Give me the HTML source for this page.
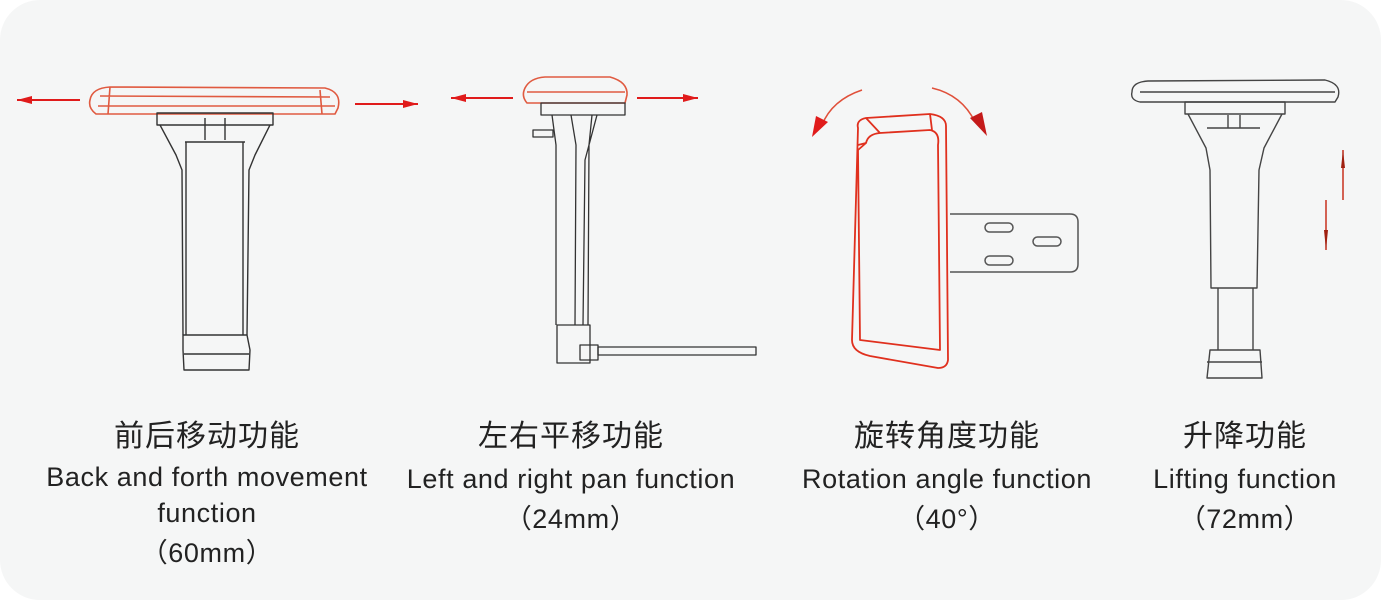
<!DOCTYPE html>
<html><head><meta charset="utf-8"><style>
html,body{margin:0;padding:0;background:#fff;}
.wrap{position:relative;width:1381px;height:608px;overflow:hidden;}
.t{position:absolute;text-align:center;color:#222;font-family:"Liberation Sans","Noto Sans CJK SC",sans-serif;font-size:27px;letter-spacing:0.6px;line-height:36px;transform:translateX(-50%);white-space:nowrap;}
.cn{font-size:30px;letter-spacing:1px;}
</style></head><body><div class="wrap">
<svg width="1381" height="608" style="position:absolute;left:0;top:0" fill="none" stroke-linejoin="round">
<rect x="0" y="0" width="1381" height="600" rx="40" fill="#f5f6f6"/>
<!-- col1 -->
<g stroke="#e05a40" stroke-width="1.6">
<path d="M90 100 Q92 88 110 87 L325 88 Q342 92 338 108 L335 114 L96 114 Q88 108 90 100Z"/>
<path d="M100 96 L330 97 M98 106 L335 106 M110 87 L108 114 M320 90 L322 114"/>
</g>
<g stroke="#e01b1b" stroke-width="2"><path d="M17 100 L80 100"/><path d="M355 104 L418 104"/></g>
<path d="M17 100 L32 96 L32 104Z M418 104 L403 100 L403 108Z" fill="#e01b1b"/>
<g stroke="#333" stroke-width="1.4">
<rect x="157" y="113" width="116" height="12"/>
<path d="M160 125 L176 155 L182 170 L183 335 M270 125 L255 155 L249 170 L247 335"/>
<path d="M186 142 L186 335 M243 142 L243 335 M185 142 L245 142 M205 118 L205 140 M225 118 L225 140"/>
<path d="M183 335 L247 335 L250 350 L249 370 L184 370 L183 350Z M184 354 L249 354"/>
</g>
<!-- col2 -->
<g stroke="#e05a40" stroke-width="1.6">
<path d="M525 88 Q530 78 545 77 L610 77 Q628 82 627 95 L625 103 L527 103 Q521 96 525 88Z M527 92 L625 92"/>
</g>
<g stroke="#e01b1b" stroke-width="2"><path d="M451 98 L513 98"/><path d="M637 98 L698 98"/></g>
<path d="M451 98 L466 94 L466 102Z M698 98 L683 94 L683 102Z" fill="#e01b1b"/>
<g stroke="#333" stroke-width="1.3">
<rect x="541" y="103" width="84" height="12"/>
<path d="M552 115 L556 145 L556 325 M592 115 L589 145 L588 325 M571 115 L576 145 L575 325 M597 115 L585 160 L583 325"/>
<path d="M533 130 L553 130 L553 137 L533 137Z"/>
<rect x="557" y="325" width="33" height="38"/>
<rect x="580" y="345" width="18" height="15"/>
<rect x="598" y="347" width="158" height="8"/>
</g>
<!-- col3 -->
<g stroke="#e0301e" stroke-width="1.8">
<path d="M858 128 Q856 120 866 118 L930 114 Q946 116 946 126 L948 360 Q947 368 938 368 L870 356 Q852 352 852 340Z"/>
<path d="M866 143 Q868 134 880 133 L930 130 Q940 132 938 145 L940 350 L860 340 L858 150Z"/>
<path d="M866 118 L880 133 M930 114 L932 130 M858 145 L866 143"/>
</g>
<path d="M862 90 Q832 100 822 125" stroke="#e0503a" stroke-width="1.5"/>
<path d="M812 137 L816 116 L828 122Z" fill="#e01b1b"/>
<path d="M932 88 Q962 95 975 122" stroke="#e0503a" stroke-width="1.5"/>
<path d="M987 136 L970 118 L982 112Z" fill="#c41a1a"/>
<g stroke="#555" stroke-width="1.5">
<path d="M950 214 L1070 214 Q1078 214 1078 222 L1078 264 Q1078 272 1070 272 L950 272"/>
<rect x="985" y="223" width="28" height="9" rx="4.5"/>
<rect x="1033" y="237" width="28" height="9" rx="4.5"/>
<rect x="985" y="256" width="28" height="9" rx="4.5"/>
</g>
<!-- col4 -->
<g stroke="#444" stroke-width="1.4">
<path d="M1132 92 Q1132 82 1148 81 L1325 80 Q1342 84 1338 97 L1335 102 L1140 102 Q1130 100 1132 92Z M1140 92 L1335 92"/>
<rect x="1185" y="102" width="100" height="12"/>
<path d="M1188 114 L1206 148 L1210 170 L1211 288 L1257 288 L1259 170 L1264 148 L1282 114"/>
<path d="M1207 128 L1260 128 M1218 288 L1218 350 M1253 288 L1253 350 M1228 115 L1228 128 M1240 115 L1240 128"/>
<path d="M1210 350 L1260 350 L1262 378 L1207 378Z M1207 362 L1262 362"/>
</g>
<g stroke="#c8301e" stroke-width="1.5"><path d="M1343 150 L1343 200 M1326 200 L1326 250"/></g>
<path d="M1343 150 L1341 168 L1345 168Z M1326 250 L1324 230 L1328 230Z" fill="#a02010"/>
</svg>
<div class="t cn" style="left:207px;top:419px">前后移动功能</div>
<div class="t" style="left:207px;top:459px">Back and forth movement</div>
<div class="t" style="left:207px;top:495px">function</div>
<div class="t" style="left:207px;top:535px">（60mm）</div>
<div class="t cn" style="left:571px;top:419px">左右平移功能</div>
<div class="t" style="left:571px;top:461px">Left and right pan function</div>
<div class="t" style="left:571px;top:501px">（24mm）</div>
<div class="t cn" style="left:947px;top:419px">旋转角度功能</div>
<div class="t" style="left:947px;top:461px">Rotation angle function</div>
<div class="t" style="left:947px;top:501px">（40°）</div>
<div class="t cn" style="left:1245px;top:419px">升降功能</div>
<div class="t" style="left:1245px;top:461px">Lifting function</div>
<div class="t" style="left:1245px;top:501px">（72mm）</div>
</div></body></html>
